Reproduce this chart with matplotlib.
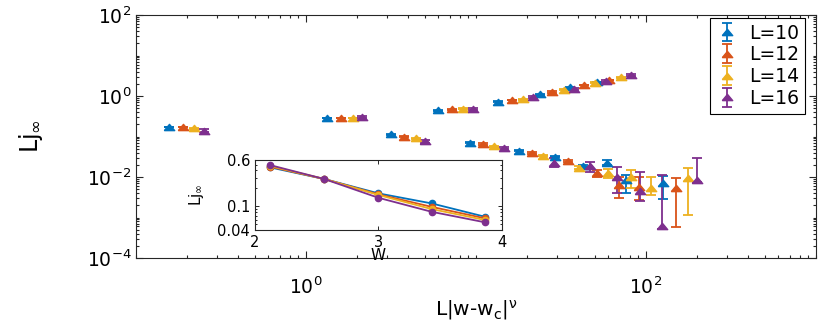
import numpy as np
import matplotlib
matplotlib.use('Agg')
import matplotlib.pyplot as plt
from matplotlib.ticker import LogLocator, NullFormatter, FixedLocator

plt.rcParams['font.family'] = ['DejaVu Sans']
plt.rcParams['mathtext.default'] = 'regular'

# system sizes and MATLAB-like colours
L_values = [10, 12, 14, 16]
colors = ['#0072BD', '#D95319', '#EDB120', '#7E2F8E']

# main panel: x = L|w-wc|^nu, y = L j_inf, with lower / upper ends of error bars
x_L10 = [0.157, 1.335, 3.15, 6.0, 9.22, 13.5, 17.9, 23.8, 29.2, 35.7, 42.7, 51.3, 58.8, 76.3, 126]
y_L10 = [0.172, 0.286, 0.113, 0.44, 0.0703, 0.72, 0.0446, 1.10, 0.0317, 1.64, 0.0187, 2.22, 0.0228, 0.00843, 0.00698]
lo_L10 = [0.168, 0.280, 0.110, 0.43, 0.068, 0.70, 0.0430, 1.07, 0.0305, 1.60, 0.0178, 2.16, 0.0198, 0.00396, 0.00281]
hi_L10 = [0.176, 0.292, 0.116, 0.45, 0.072, 0.74, 0.0462, 1.13, 0.0329, 1.68, 0.0196, 2.28, 0.0263, 0.0112, 0.0106]

x_L12 = [0.188, 1.60, 3.79, 7.2, 11.0, 16.2, 21.4, 28.1, 34.9, 43.2, 51.3, 60.8, 69.6, 91.4, 151]
y_L12 = [0.172, 0.286, 0.099, 0.47, 0.0653, 0.80, 0.0391, 1.26, 0.0248, 1.87, 0.0123, 2.48, 0.00634, 0.00577, 0.00526]
lo_L12 = [0.168, 0.280, 0.096, 0.46, 0.063, 0.78, 0.0375, 1.22, 0.0232, 1.82, 0.00985, 2.42, 0.00298, 0.0027, 0.00057]
hi_L12 = [0.176, 0.292, 0.102, 0.48, 0.068, 0.82, 0.0407, 1.30, 0.0264, 1.92, 0.0149, 2.54, 0.0102, 0.0102, 0.0096]

x_L14 = [0.220, 1.88, 4.42, 8.4, 12.8, 18.8, 24.9, 33.1, 40.3, 50.3, 60.0, 71.0, 81.6, 106.6, 176]
y_L14 = [0.162, 0.286, 0.090, 0.49, 0.0573, 0.84, 0.0336, 1.41, 0.0170, 2.13, 0.0123, 2.90, 0.0102, 0.00526, 0.0093]
lo_L14 = [0.157, 0.279, 0.087, 0.48, 0.055, 0.82, 0.0322, 1.37, 0.0155, 2.07, 0.0093, 2.83, 0.00526, 0.0036, 0.00115]
hi_L14 = [0.167, 0.293, 0.093, 0.50, 0.060, 0.86, 0.0350, 1.45, 0.0185, 2.19, 0.0155, 2.97, 0.0149, 0.00985, 0.017]

x_L16 = [0.251, 2.14, 5.03, 9.6, 14.7, 21.6, 28.6, 37.6, 46.9, 57.9, 67.8, 81.3, 92.2, 123.7, 200]
y_L16 = [0.139, 0.30, 0.077, 0.48, 0.052, 0.94, 0.0225, 1.49, 0.0187, 2.35, 0.0102, 3.30, 0.0045, 0.0006, 0.0084]
lo_L16 = [0.128, 0.28, 0.071, 0.45, 0.048, 0.88, 0.0177, 1.40, 0.0135, 2.22, 0.00396, 3.12, 0.0025, 0.00051, 0.00765]
hi_L16 = [0.150, 0.32, 0.083, 0.51, 0.056, 1.00, 0.0294, 1.58, 0.0239, 2.48, 0.0179, 3.48, 0.0135, 0.0112, 0.029]

# inset: L j_inf against W
W_inset = [2.12, 2.56, 3.0, 3.43, 3.86]
inset_L10 = [0.452, 0.288, 0.165, 0.112, 0.067]
inset_L12 = [0.465, 0.288, 0.159, 0.098, 0.063]
inset_L14 = [0.478, 0.288, 0.155, 0.090, 0.059]
inset_L16 = [0.494, 0.288, 0.139, 0.081, 0.054]

main_x = [x_L10, x_L12, x_L14, x_L16]
main_y = [y_L10, y_L12, y_L14, y_L16]
main_lo = [lo_L10, lo_L12, lo_L14, lo_L16]
main_hi = [hi_L10, hi_L12, hi_L14, hi_L16]
inset_y = [inset_L10, inset_L12, inset_L14, inset_L16]

# flattened triangle, like the stretched MATLAB marker
tri = [(-1, -0.6), (1, -0.6), (0, 0.6), (-1, -0.6)]
axcol = '#262626'

fig = plt.figure(figsize=(8.3, 3.27), dpi=100)
ax = fig.add_axes([0.1639, 0.211, 0.8193, 0.743])

handles = []
for L, c, xs, ys, lo, hi in zip(L_values, colors, main_x, main_y, main_lo, main_hi):
    ys = np.array(ys)
    yerr = [ys - np.array(lo), np.array(hi) - ys]
    h = ax.errorbar(xs, ys, yerr=yerr, ls='none', marker=tri, ms=7.5, color=c,
                    mec=c, elinewidth=1.3, capsize=3.5, capthick=1.3)
    handles.append(h)

ax.set_xscale('log')
ax.set_yscale('log')
ax.set_xlim(0.1, 1000)
ax.set_ylim(1e-4, 1e2)
ax.xaxis.set_major_locator(FixedLocator([1, 100]))
ax.yaxis.set_major_locator(FixedLocator([1e-4, 1e-2, 1, 1e2]))
ax.set_xticklabels(['$10^{0}$', '$10^{2}$'])
ax.set_yticklabels(['$10^{-4}$', '$10^{-2}$', '$10^{0}$', '$10^{2}$'])
ax.xaxis.set_minor_locator(LogLocator(base=10, subs=np.arange(1, 10), numticks=20))
ax.yaxis.set_minor_locator(LogLocator(base=10, subs=np.arange(1, 10), numticks=20))
ax.xaxis.set_minor_formatter(NullFormatter())
ax.yaxis.set_minor_formatter(NullFormatter())
ax.tick_params(which='both', direction='in', top=True, right=True, color=axcol,
               labelsize=13.5, width=0.8)
ax.tick_params(which='major', length=5)
ax.tick_params(which='minor', length=2.5)
ax.tick_params(axis='x', pad=13)
for s in ax.spines.values():
    s.set_color(axcol)
    s.set_linewidth(0.8)

ax.set_xlabel('L|w-w$_c$|$^{\\nu}$', fontsize=14.5, labelpad=0)
ax.set_ylabel('Lj$_{\\infty}$', fontsize=17, labelpad=30)

leg = ax.legend(handles, ['L=%d' % L for L in L_values], loc='upper right',
                bbox_to_anchor=(0.984, 0.988), borderaxespad=0, fontsize=13.5,
                fancybox=False, framealpha=1, edgecolor='black',
                handlelength=1.2, labelspacing=0.15, borderpad=0.3, handletextpad=0.6)
leg.get_frame().set_linewidth(0.8)

# inset
ax2 = fig.add_axes([0.3072, 0.2966, 0.2976, 0.2141])
for c, ys in zip(colors, inset_y):
    ax2.plot(W_inset, ys, '-o', color=c, lw=1.3, ms=4.5, mfc=c, mec=c)
ax2.set_yscale('log')
ax2.set_xlim(2, 4)
ax2.set_ylim(0.04, 0.6)
ax2.xaxis.set_major_locator(FixedLocator([2, 3, 4]))
ax2.yaxis.set_major_locator(FixedLocator([0.04, 0.1, 0.6]))
ax2.set_yticklabels(['0.04', '0.1', '0.6'])
ax2.yaxis.set_minor_locator(LogLocator(base=10, subs=np.arange(1, 10), numticks=10))
ax2.yaxis.set_minor_formatter(NullFormatter())
ax2.tick_params(which='both', direction='in', top=True, right=True, color=axcol,
                labelsize=10.5, width=0.7)
ax2.tick_params(which='major', length=3)
ax2.tick_params(which='minor', length=1.5)
for s in ax2.spines.values():
    s.set_color(axcol)
    s.set_linewidth(0.8)
ax2.set_xlabel('W', fontsize=11, labelpad=-1)
ax2.set_ylabel('Lj$_{\\infty}$', fontsize=11, labelpad=8)

fig.savefig('out.png', dpi=100)
